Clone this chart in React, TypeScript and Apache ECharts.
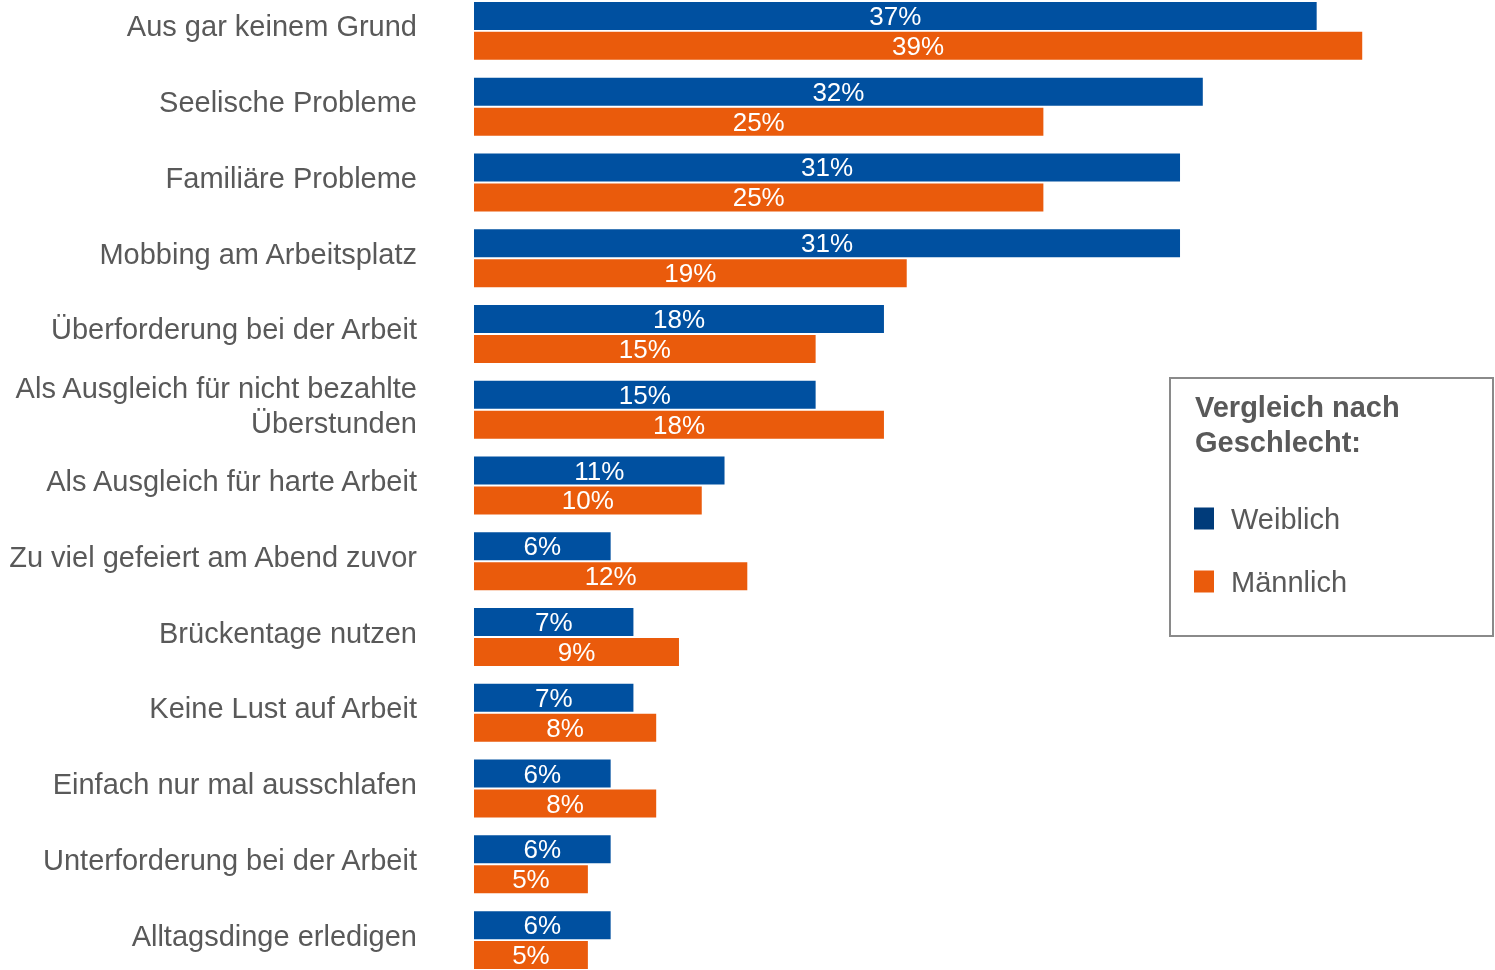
import React, { useEffect, useRef } from "react";
import * as echarts from "echarts";

const categories = [
  "Aus gar keinem Grund",
  "Seelische Probleme",
  "Familiäre Probleme",
  "Mobbing am Arbeitsplatz",
  "Überforderung bei der Arbeit",
  "Als Ausgleich für nicht bezahlte\nÜberstunden",
  "Als Ausgleich für harte Arbeit",
  "Zu viel gefeiert am Abend zuvor",
  "Brückentage nutzen",
  "Keine Lust auf Arbeit",
  "Einfach nur mal ausschlafen",
  "Unterforderung bei der Arbeit",
  "Alltagsdinge erledigen",
];
const weiblich = [37, 32, 31, 31, 18, 15, 11, 6, 7, 7, 6, 6, 6];
const maennlich = [39, 25, 25, 19, 15, 18, 10, 12, 9, 8, 8, 5, 5];
const legendTitle = "Vergleich nach\nGeschlecht:";

const FONT = "'Liberation Sans', Arial, sans-serif";
const TEXT = "#595959";
const SHIFT = 8; // chart div shifted up so the first band starts above the page

export default function App() {
  const ref = useRef<HTMLDivElement>(null);
  useEffect(() => {
    if (!ref.current) return;
    const chart = echarts.init(ref.current, null, { renderer: "svg" });
    chart.setOption({
      animation: false,
      textStyle: { fontFamily: FONT },
      grid: { left: 474, top: SHIFT - 7, height: 985, width: 911, containLabel: false },
      xAxis: { type: "value", min: 0, max: 40, show: false },
      yAxis: {
        type: "category",
        data: categories,
        inverse: true,
        axisLine: { show: false },
        axisTick: { show: false },
        splitLine: { show: false },
        axisLabel: {
          margin: 57,
          color: TEXT,
          fontSize: 29,
          lineHeight: 35,
          fontFamily: FONT,
          align: "right",
          formatter: (v: string) => v + "\n{s| }",
          rich: { s: { fontSize: 4, lineHeight: 9 } },
        },
      },
      legend: {
        orient: "vertical",
        left: 1194,
        top: 504 + SHIFT,
        padding: 0,
        itemWidth: 20,
        itemHeight: 22,
        itemGap: 34,
        icon: "rect",
        textStyle: { color: TEXT, fontSize: 29, fontFamily: FONT, padding: [0, 0, 0, 12] },
        data: [
          { name: "Weiblich", itemStyle: { color: "#003B7A" } },
          { name: "Männlich", itemStyle: { color: "#EA5B0C" } },
        ],
      },
      graphic: [
        {
          type: "rect",
          shape: { x: 1170, y: 378 + SHIFT, width: 323, height: 258 },
          style: { fill: "none", stroke: "#8A8A8A", lineWidth: 2 },
        },
        {
          type: "text",
          x: 1195,
          y: 389 + SHIFT,
          style: {
            text: legendTitle,
            fill: TEXT,
            font: `bold 29px ${FONT}`,
            lineHeight: 35,
          },
        },
      ],
      series: [
        {
          name: "Weiblich",
          type: "bar",
          data: weiblich,
          barWidth: 28,
          barGap: "7%",
          itemStyle: { color: "#0050A0" },
          label: {
            show: true,
            position: "inside",
            formatter: "{c}%",
            color: "#fff",
            fontSize: 26,
            fontFamily: FONT,
          },
        },
        {
          name: "Männlich",
          type: "bar",
          data: maennlich,
          barWidth: 28,
          barGap: "7%",
          itemStyle: { color: "#EA5B0C" },
          label: {
            show: true,
            position: "inside",
            formatter: "{c}%",
            color: "#fff",
            fontSize: 26,
            fontFamily: FONT,
          },
        },
      ],
    });
    return () => chart.dispose();
  }, []);
  return (
    <div
      ref={ref}
      style={{ position: "fixed", left: 0, top: -SHIFT, width: 1495, height: 970 + 2 * SHIFT }}
    />
  );
}
